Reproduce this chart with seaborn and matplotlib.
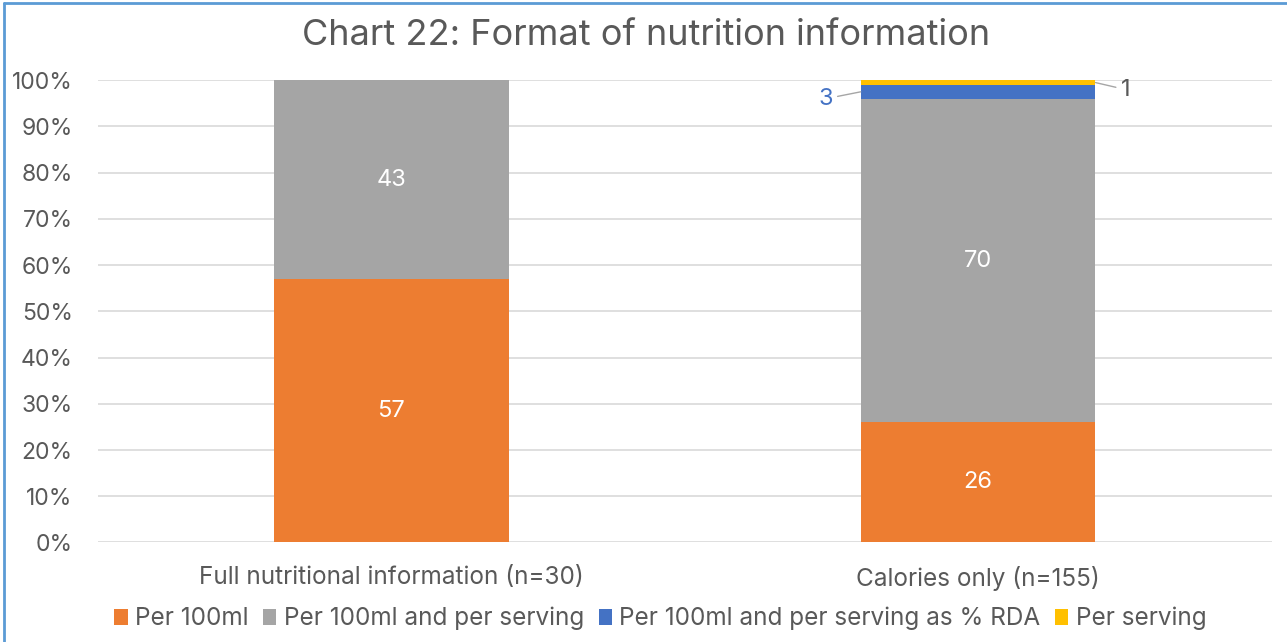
import pandas as pd
import matplotlib.pyplot as plt
import seaborn as sns
from matplotlib.lines import Line2D
from matplotlib.patches import Patch

categories = ["Full nutritional information (n=30)", "Calories only (n=155)"]
series = ["Per 100ml", "Per 100ml and per serving",
          "Per 100ml and per serving as % RDA", "Per serving"]
per_100ml = [57, 26]
per_100ml_serving = [43, 70]
per_rda = [0, 3]
per_serving = [0, 1]
colors = ["#ED7D31", "#A5A5A5", "#4472C4", "#FFC000"]

sns.set_theme(style="white")
plt.rcParams["font.family"] = ["Inter", "DejaVu Sans"]
text_col = "#595959"

values = [per_100ml, per_100ml_serving, per_rda, per_serving]
df = pd.DataFrame({"Category": categories})
cum = [0, 0]
for name, vals in zip(series, values):
    cum = [c + v for c, v in zip(cum, vals)]
    df[name] = cum

fig, ax = plt.subplots(figsize=(12.87, 6.42), dpi=100)
fig.subplots_adjust(left=0.076, right=0.988, top=0.875, bottom=0.155)

# stacked bars: draw cumulative totals from the top down
for name, col in reversed(list(zip(series, colors))):
    sns.barplot(data=df, x="Category", y=name, color=col, width=0.4,
                saturation=1, ax=ax, linewidth=0)

ax.set_ylim(0, 100)
ax.set_xlim(-0.5, 1.5)
ax.set_yticks(range(0, 101, 10))
ax.set_yticklabels([f"{t}%" for t in range(0, 101, 10)])
ax.yaxis.grid(True, color="#D9D9D9", linewidth=1.2)
ax.set_axisbelow(True)
for s in ax.spines.values():
    s.set_visible(False)
ax.tick_params(axis="y", length=0, labelsize=16.5, colors=text_col, pad=18)
ax.tick_params(axis="x", length=0, labelsize=17.5, colors=text_col, pad=17)
ax.set_xlabel("")
ax.set_ylabel("")
fig.text(0.502, 0.944, "Chart 22: Format of nutrition information",
         fontsize=26, color=text_col, ha="center", va="center")

# segment labels
for i in range(len(categories)):
    base = 0
    for j, vals in enumerate(values):
        v = vals[i]
        mid = base + v / 2
        base += v
        if v >= 10:
            ax.text(i, mid, str(v), ha="center", va="center",
                    color="white", fontsize=17)
        elif v > 0 and j == 2:
            ax.annotate(str(v), xy=(i - 0.2, mid), xytext=(-20, -5),
                        textcoords="offset points", ha="right", va="center",
                        color="#4472C4", fontsize=17,
                        arrowprops=dict(arrowstyle="-", color="#A6A6A6",
                                        lw=1, shrinkA=1, shrinkB=0))
        elif v > 0 and j == 3:
            ax.annotate(str(v), xy=(i + 0.2, mid), xytext=(18, -5),
                        textcoords="offset points", ha="left", va="center",
                        color=text_col, fontsize=17,
                        arrowprops=dict(arrowstyle="-", color="#A6A6A6",
                                        lw=1, shrinkA=1, shrinkB=0))

handles = [Patch(facecolor=c, edgecolor="none") for c in colors]
fig.legend(handles, series, loc="lower center", ncol=4, frameon=False,
           fontsize=17.5, handlelength=0.55, handleheight=0.6,
           handletextpad=0.3, columnspacing=0.6,
           bbox_to_anchor=(0.513, -0.016), labelcolor=text_col)

# figure frame
fig.add_artist(Line2D([0.003, 0.003], [0, 0.995], transform=fig.transFigure,
                      color="#5B9BD5", lw=2))
fig.add_artist(Line2D([0.003, 1], [0.995, 0.995], transform=fig.transFigure,
                      color="#5B9BD5", lw=2))

fig.savefig("out.png", dpi=100)
